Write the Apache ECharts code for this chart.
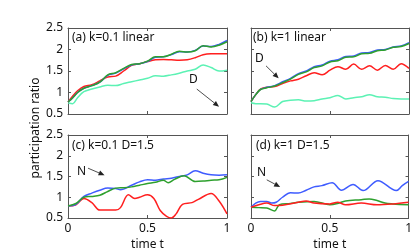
<!DOCTYPE html>
<html><head><meta charset="utf-8">
<script src="https://cdn.jsdelivr.net/npm/echarts@6/dist/echarts.min.js"></script>
<style>html,body{margin:0;padding:0;background:#fff}#c{width:415px;height:252px}</style>
</head><body><div id="c"></div>
<script>
// ---- data ----
const panelTitles = ['(a) k=0.1 linear', '(b) k=1 linear', '(c) k=0.1 D=1.5', '(d) k=1 D=1.5'];
const yTicks = [0.5, 1, 1.5, 2, 2.5];
const xTicks = [0, 0.5, 1];
const xLabel = 'time t';
const yLabel = 'participation ratio';

// panel (a)
const tA = [0,0.03,0.06,0.1,0.15,0.2,0.25,0.3,0.35,0.4,0.45,0.5,0.55,0.6,0.65,0.7,0.75,0.8,0.85,0.9,0.95,1];
const aBlue  = [0.78,0.88,1.0,1.1,1.16,1.24,1.4,1.45,1.55,1.64,1.67,1.72,1.82,1.83,1.88,1.95,1.94,1.98,2.08,2.07,2.12,2.21];
const aGreen = [0.78,0.88,1.0,1.1,1.16,1.24,1.41,1.46,1.56,1.65,1.67,1.73,1.83,1.83,1.89,1.96,1.94,1.97,2.09,2.06,2.1,2.18];
const aRed   = [0.78,0.92,1.04,1.14,1.18,1.27,1.36,1.38,1.5,1.63,1.67,1.72,1.76,1.77,1.76,1.75,1.76,1.81,1.88,1.9,1.9,1.9];
const aCyan  = [0.76,0.74,0.88,1.02,1.08,1.13,1.17,1.16,1.21,1.25,1.29,1.33,1.39,1.38,1.41,1.45,1.5,1.54,1.64,1.58,1.5,1.52];

// panel (b)
const tB = [0,0.03,0.06,0.1,0.15,0.2,0.25,0.3,0.35,0.4,0.45,0.5,0.55,0.6,0.65,0.7,0.75,0.8,0.85,0.9,0.95,1];
const bBlue  = [0.79,0.95,1.07,1.12,1.16,1.25,1.33,1.44,1.5,1.6,1.64,1.73,1.76,1.84,1.85,1.92,1.93,1.99,2.0,2.06,2.08,2.16];
const bGreen = [0.79,0.95,1.07,1.11,1.15,1.23,1.31,1.42,1.48,1.58,1.62,1.71,1.74,1.82,1.83,1.9,1.91,1.97,1.99,2.05,2.07,2.14];
const bRed   = [0.79,0.95,1.08,1.12,1.14,1.21,1.27,1.31,1.39,1.46,1.41,1.52,1.6,1.54,1.66,1.54,1.62,1.52,1.63,1.54,1.67,1.56];
const bCyan  = [0.76,0.74,0.74,0.73,0.66,0.79,0.82,0.83,0.8,0.81,0.85,0.88,0.93,0.85,0.88,0.9,0.95,0.9,0.89,0.86,0.85,0.85];

// panel (c)
const tCBlue = [0,0.05,0.1,0.15,0.2,0.25,0.3,0.33,0.4,0.45,0.5,0.55,0.6,0.65,0.7,0.75,0.8,0.85,0.9,0.95,1];
const cBlue  = [0.79,0.83,1.02,1.1,1.17,1.22,1.21,1.18,1.29,1.37,1.42,1.41,1.44,1.46,1.5,1.54,1.64,1.58,1.54,1.53,1.54];
const tCGreen = [0,0.05,0.1,0.15,0.2,0.25,0.3,0.35,0.4,0.45,0.5,0.55,0.6,0.63,0.67,0.73,0.8,0.85,0.9,0.95,1];
const cGreen = [0.79,0.85,1.0,1.02,1.05,1.14,1.22,1.23,1.25,1.29,1.33,1.36,1.41,1.35,1.43,1.52,1.38,1.39,1.41,1.42,1.48];
const tCRed = [0,0.05,0.1,0.15,0.2,0.25,0.3,0.33,0.38,0.42,0.45,0.5,0.54,0.58,0.62,0.65,0.68,0.72,0.78,0.82,0.9,0.95,1];
const cRed  = [0.79,0.82,0.97,0.87,0.69,0.69,0.69,0.75,1.06,0.97,1.0,1.06,0.97,0.68,0.54,0.5,0.6,0.83,0.87,0.95,1.09,0.91,0.6];

// panel (d)
const tDBlue = [0,0.03,0.06,0.1,0.13,0.16,0.2,0.25,0.3,0.35,0.4,0.45,0.515,0.574,0.648,0.711,0.806,0.922,0.96,1];
const dBlue  = [0.76,0.86,0.9,0.9,0.86,0.88,1.0,1.11,1.1,1.17,1.25,1.28,1.35,1.17,1.31,1.16,1.4,1.16,1.28,1.38];
const tDGreen = [0,0.05,0.1,0.15,0.18,0.25,0.3,0.4,0.5,0.55,0.6,0.7,0.75,0.8,0.85,0.9,1];
const dGreen = [0.76,0.75,0.74,0.67,0.82,0.85,0.88,0.9,0.82,0.85,0.91,0.94,0.96,0.92,0.86,0.84,0.82];
const tDRed = [0,0.05,0.1,0.15,0.2,0.3,0.35,0.4,0.5,0.55,0.6,0.7,0.8,0.9,1];
const dRed  = [0.76,0.82,0.86,0.8,0.81,0.88,0.91,0.86,0.84,0.88,0.82,0.86,0.82,0.84,0.88];

// annotations: [label, arrow from [t,v], arrow to [t,v]]
const notes = [
  ['D', [0.81,1.08], [0.95,0.67]],
  ['D', [0.095,1.62], [0.175,1.33]],
  ['N', [0.126,1.70], [0.23,1.53]],
  ['N', [0.10,1.42], [0.185,1.25]]
];

// ---- chart ----
const C = {blue:'#3f5cff', green:'#2ea02e', red:'#ff1f1f', cyan:'#5cf2b4'};
const FONT = 'Noto Sans';
const grids = [
  {left:68, top:28, width:159, height:86},
  {left:251, top:28, width:158, height:86},
  {left:68, top:135, width:159, height:87},
  {left:251, top:135, width:158, height:87}
];
const pair = (t, v) => t.map((x, i) => [x, v[i]]);
const xAxis = [], yAxis = [], series = [];
grids.forEach((g, i) => {
  const bottomRow = i >= 2, leftCol = i % 2 === 0;
  const common = {gridIndex:i, type:'value', splitLine:{show:false},
    axisLine:{show:true, onZero:false, lineStyle:{color:'#555', width:1}},
    axisTick:{show:true, inside:true, length:3, lineStyle:{color:'#555'}}};
  xAxis.push(Object.assign({}, common, {position:'bottom', min:0, max:1, interval:0.5,
    axisLabel:{show:bottomRow, color:'#111', fontFamily:FONT, fontSize:12, margin:5,
      formatter:v => xTicks.includes(v) ? String(v) : ''},
    name: bottomRow ? xLabel : '', nameLocation:'middle', nameGap:21,
    nameTextStyle:{color:'#111', fontFamily:FONT, fontSize:12}}));
  xAxis.push(Object.assign({}, common, {position:'top', min:0, max:1, interval:0.5, axisLabel:{show:false}}));
  yAxis.push(Object.assign({}, common, {position:'left', min:0.5, max:2.5, interval:0.5,
    axisLabel:{show:leftCol, color:'#111', fontFamily:FONT, fontSize:12, margin:5,
      formatter:v => yTicks.includes(v) ? String(v) : ''}}));
  yAxis.push(Object.assign({}, common, {position:'right', min:0.5, max:2.5, interval:0.5, axisLabel:{show:false}}));
});
function line(i, t, v, color, z) {
  series.push({type:'line', xAxisIndex:2*i, yAxisIndex:2*i, data:pair(t, v), smooth:0.35,
    showSymbol:false, symbol:'none', z:z, silent:true, animation:false,
    lineStyle:{color:color, width:1.5}});
}
line(0, tA, aCyan, C.cyan, 2); line(0, tA, aRed, C.red, 3); line(0, tA, aBlue, C.blue, 4); line(0, tA, aGreen, C.green, 5);
line(1, tB, bCyan, C.cyan, 2); line(1, tB, bRed, C.red, 3); line(1, tB, bBlue, C.blue, 4); line(1, tB, bGreen, C.green, 5);
line(2, tCRed, cRed, C.red, 3); line(2, tCBlue, cBlue, C.blue, 4); line(2, tCGreen, cGreen, C.green, 5);
line(3, tDRed, dRed, C.red, 5); line(3, tDBlue, dBlue, C.blue, 4); line(3, tDGreen, dGreen, C.green, 3);

const chart = echarts.init(document.getElementById('c'), null, {renderer:'canvas'});
chart.setOption({
  animation:false,
  grid: grids.map(g => Object.assign({containLabel:false}, g)),
  xAxis, yAxis, series
});

// texts (titles, annotation letters, y label) and arrows
const titlePos = [[72,32],[253,32],[72,140],[256,140]];
const letterPos = [[189,74],[255,53],[77,166],[257,167]];
const graphic = [];
panelTitles.forEach((s, i) => graphic.push({type:'text', left:titlePos[i][0], top:titlePos[i][1],
  style:{text:s, fill:'#111', font:'12px "' + FONT + '"'}}));
notes.forEach((n, i) => {
  graphic.push({type:'text', left:letterPos[i][0], top:letterPos[i][1],
    style:{text:n[0], fill:'#111', font:'12px "' + FONT + '"'}});
  const p0 = chart.convertToPixel({xAxisIndex:2*i, yAxisIndex:2*i}, n[1]);
  const p1 = chart.convertToPixel({xAxisIndex:2*i, yAxisIndex:2*i}, n[2]);
  const dx = p1[0]-p0[0], dy = p1[1]-p0[1], L = Math.hypot(dx, dy);
  const ux = dx/L, uy = dy/L, hl = 6, hw = 2.6;
  const bx = p1[0]-ux*hl, by = p1[1]-uy*hl;
  graphic.push({type:'line', shape:{x1:p0[0], y1:p0[1], x2:bx, y2:by}, style:{stroke:'#222', lineWidth:0.8}});
  graphic.push({type:'polygon', shape:{points:[[p1[0],p1[1]],[bx-uy*hw, by+ux*hw],[bx+uy*hw, by-ux*hw]]},
    style:{fill:'#222'}});
});
graphic.push({type:'text', x:36, y:128, rotation:Math.PI/2,
  style:{text:yLabel, fill:'#111', font:'12px "' + FONT + '"', align:'center', verticalAlign:'middle'}});
chart.setOption({graphic});
</script></body></html>
